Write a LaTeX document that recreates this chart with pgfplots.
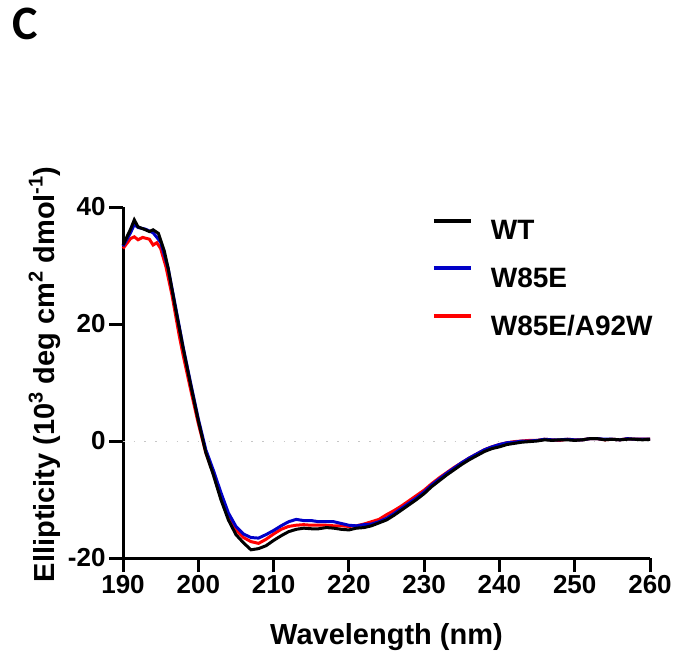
\documentclass[border=0pt]{standalone}
\usepackage{fontspec}
\setmainfont{Liberation Sans}
\newfontfamily\panelfont{Carlito}
\usepackage{pgfplots}
\pgfplotsset{compat=1.18}
\definecolor{wtcol}{HTML}{000000}
\definecolor{w85col}{HTML}{0000C8}
\definecolor{dblcol}{HTML}{FF0000}
\newcommand{\sups}[1]{\raisebox{0.42em}{\fontsize{20}{20}\selectfont #1}}

% CD spectra, ellipticity in 10^3 deg cm^2 dmol^-1
\pgfplotstableread{
nm   val
190  33.5
191  36.2
191.5 37.8
192  36.6
193  36.1
193.5 35.8
194  36.1
194.7 35.5
195.5 32.4
196  29.5
197  22.5
198  15.8
199  9.5
200  3.5
201  -2.0
202  -5.8
203  -10.0
204  -13.5
205  -16.0
206  -17.4
207  -18.6
208  -18.4
209  -17.9
210  -17.0
211  -16.2
212  -15.5
213  -15.1
214  -14.9
215  -15.0
216  -15.0
217  -14.8
218  -14.9
219  -15.1
220  -15.2
221  -14.9
222  -14.8
223  -14.5
224  -14.0
225  -13.5
226  -12.7
227  -11.8
228  -10.9
229  -10.0
230  -9.0
231  -7.8
232  -6.8
233  -5.8
234  -4.9
235  -4.0
236  -3.2
237  -2.5
238  -1.8
239  -1.3
240  -1.0
241  -0.6
242  -0.4
243  -0.2
244  -0.1
245  0.0
246  0.2
247  0.1
248  0.2
249  0.2
250  0.1
251  0.2
252  0.4
253  0.4
254  0.2
255  0.3
256  0.2
257  0.3
258  0.3
259  0.2
260  0.3
}\wt

\pgfplotstableread{
nm   val
190  33.3
191  35.6
191.5 37.0
192  36.5
193  36.2
194  35.6
195  34.0
196  29.5
197  22.8
198  16.0
199  9.8
200  3.8
201  -1.5
202  -5.0
203  -8.8
204  -12.3
205  -14.6
206  -15.9
207  -16.5
208  -16.6
209  -16.0
210  -15.3
211  -14.5
212  -13.8
213  -13.4
214  -13.6
215  -13.6
216  -13.8
217  -13.8
218  -13.8
219  -14.1
220  -14.4
221  -14.5
222  -14.3
223  -14.2
224  -13.8
225  -13.2
226  -12.4
227  -11.5
228  -10.6
229  -9.7
230  -8.7
231  -7.5
232  -6.5
233  -5.5
234  -4.6
235  -3.7
236  -2.9
237  -2.2
238  -1.5
239  -1.0
240  -0.6
241  -0.3
242  -0.2
243  0.0
244  0.0
245  0.1
246  0.3
247  0.2
248  0.2
249  0.3
250  0.2
251  0.2
252  0.4
253  0.4
254  0.3
255  0.3
256  0.2
257  0.4
258  0.3
259  0.3
260  0.3
}\wef

\pgfplotstableread{
nm   val
190  32.9
191  34.6
191.5 34.9
192  34.4
192.6 34.8
193.5 34.5
194  33.5
194.5 33.9
195  32.9
195.7 29.8
196.5 25.0
197.5 17.8
198  14.6
199  8.7
200  3.0
201  -2.0
202  -5.5
203  -9.5
204  -13.0
205  -15.2
206  -16.5
207  -17.2
208  -17.5
209  -16.8
210  -15.9
211  -15.1
212  -14.6
213  -14.4
214  -14.3
215  -14.4
216  -14.4
217  -14.4
218  -14.5
219  -14.5
220  -14.6
221  -14.5
222  -14.2
223  -13.8
224  -13.4
225  -12.6
226  -11.9
227  -11.1
228  -10.2
229  -9.3
230  -8.4
231  -7.3
232  -6.3
233  -5.4
234  -4.5
235  -3.7
236  -2.9
237  -2.2
238  -1.5
239  -1.0
240  -0.6
241  -0.3
242  -0.1
243  0.0
244  0.1
245  0.1
246  0.3
247  0.2
248  0.1
249  0.3
250  0.2
251  0.2
252  0.4
253  0.4
254  0.2
255  0.3
256  0.2
257  0.4
258  0.3
259  0.3
260  0.3
}\wefaw

\begin{document}
\begin{tikzpicture}
\path[use as bounding box] (0pt,0pt) rectangle (675pt,654pt);
\node[anchor=north west, inner sep=0pt, font=\panelfont\bfseries\fontsize{48}{52}\selectfont] at (12pt,646pt) {C};
\begin{axis}[
  at={(123pt,96pt)}, anchor=south west,
  scale only axis, width=527pt, height=351pt,
  xmin=190, xmax=260, ymin=-20, ymax=40,
  enlargelimits=false, clip=false,
  axis lines=left,
  axis line style={-, line width=3pt},
  xtick={190,200,...,260},
  ytick={-20,0,20,40},
  minor tick num=0,
  xtick align=outside, ytick align=outside,
  major tick length=14pt,
  xtick style={draw=black, line width=3pt},
  ytick style={draw=black, line width=3pt},
  /pgf/number format/assume math mode=true,
  tick label style={font=\fontsize{26}{30}\selectfont\bfseries},
  label style={font=\fontsize{29}{34}\selectfont\bfseries},
  xlabel={Wavelength (nm)},
  xlabel style={yshift=-23pt},
  ylabel={Ellipticity (10\sups{3} deg cm\sups{2} dmol\sups{-1})},
  ylabel style={at={(ticklabel cs:0.523)}},
  reverse legend,
  legend cell align=left,
  legend style={draw=none, fill=none, at={(0.58,0.972)}, anchor=north west,
    font=\fontsize{28}{32}\selectfont\bfseries, row sep=25pt,
    nodes={inner sep=0pt}, column sep=18pt},
  legend image code/.code={\draw[#1, line width=4pt] (0pt,10pt) -- (37pt,10pt);},
]
\addplot[forget plot, gray!45, line width=1pt, dash pattern=on 1.5pt off 9.2pt] coordinates {(190,0) (260,0)};
\addplot[dblcol, line width=3pt] table[x=nm, y=val] {\wefaw};
\addlegendentry{W85E/A92W}
\addplot[w85col, line width=3pt] table[x=nm, y=val] {\wef};
\addlegendentry{W85E}
\addplot[wtcol, line width=3pt] table[x=nm, y=val] {\wt};
\addlegendentry{WT}
% tick marks as small filled bars outside the axis lines
\pgfplotsinvokeforeach{190,200,...,260}{
  \fill[black] (axis cs:#1,-20) ++(-1.5pt,0pt) rectangle ++(3pt,-14pt);
}
\pgfplotsinvokeforeach{-20,0,20,40}{
  \fill[black] (axis cs:190,#1) ++(0pt,-1.5pt) rectangle ++(-14pt,3pt);
}
\end{axis}
\end{tikzpicture}
\end{document}
